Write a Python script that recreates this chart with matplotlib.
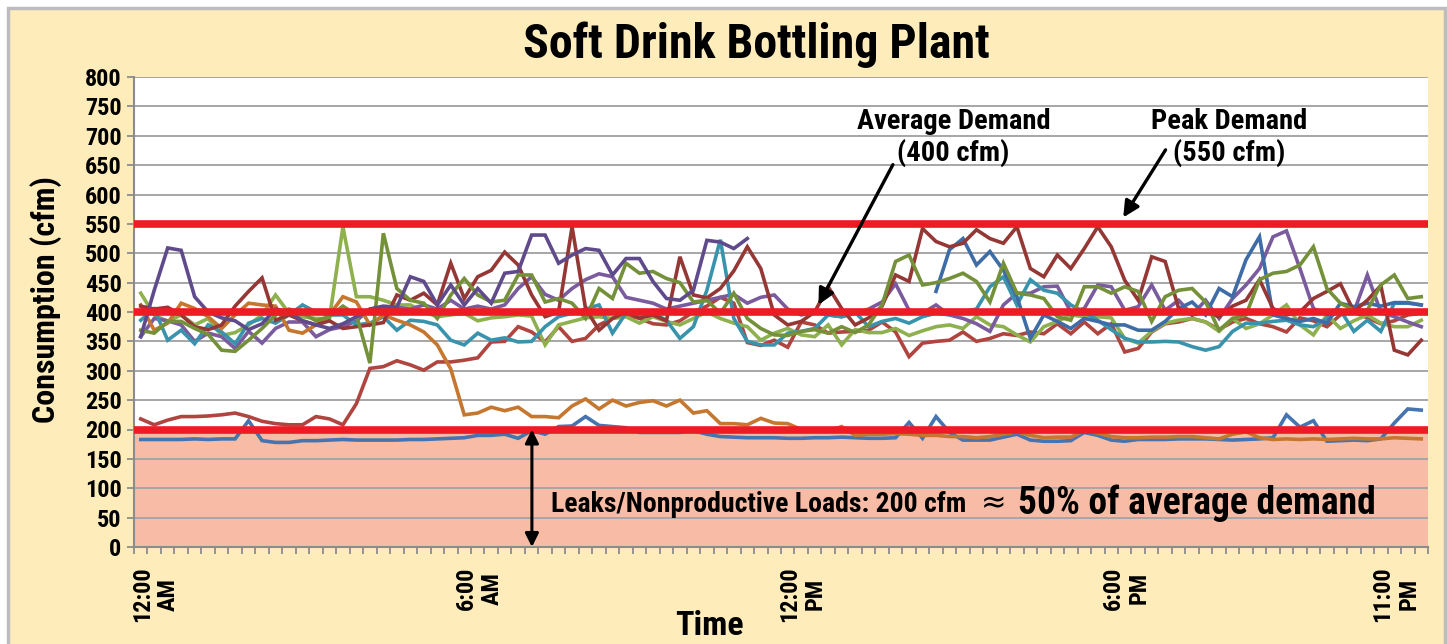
from matplotlib import pyplot as plt
from matplotlib.patches import Rectangle
from matplotlib.transforms import ScaledTranslation
import numpy as np

nan = np.nan

# Compressed-air consumption (cfm), one reading every 15 minutes (96 per day)
blue_low = [183, 183, 183, 183, 184, 183, 184, 184, 215, 181, 178, 178, 181, 181, 182, 183, 182, 182, 182, 182,
            183, 183, 184, 185, 186, 190, 190, 192, 185, 198, 192, 205, 206, 222, 207, 205, 203, 195, 195, 195,
            195, 198, 192, 188, 187, 186, 186, 186, 185, 185, 186, 186, 187, 186, 185, 185, 186, 212, 185, 222,
            195, 182, 182, 182, 187, 192, 182, 180, 180, 181, 195, 190, 182, 180, 183, 183, 183, 184, 184,
            184, 183, 182, 183, 184, 186, 225, 204, 215, 180, 181, 182, 181, 184, 211, 235, 233]
orange = [412, 369, 381, 415, 406, 392, 372, 395, 415, 412, 410, 369, 364, 378, 395, 426, 417, 378, 395, 386,
          378, 366, 344, 303, 225, 228, 238, 232, 238, 222, 222, 220, 240, 252, 235, 250, 240, 246, 249, 240,
          250, 228, 232, 210, 210, 208, 219, 211, 210, 200, 197, 197, 205, 190, 192, 192, 193, 192, 190, 190,
          188, 188, 186, 188, 192, 196, 190, 186, 187, 187, 198, 194, 188, 186, 186, 187, 187, 188, 188,
          186, 184, 192, 196, 186, 183, 184, 183, 184, 183, 184, 185, 184, 184, 186, 185, 184]
red = [218, 208, 216, 222, 222, 223, 225, 228, 222, 214, 210, 208, 208, 222, 218, 208, 244, 304, 307, 317,
       310, 301, 315, 315, 318, 322, 349, 350, 375, 366, 349, 375, 350, 355, 378, 389, 395, 389, 380, 378,
       385, 400, 410, 425, 415, 348, 343, 352, 340, 383, 378, 364, 366, 367, 369, 383, 366, 324, 347, 350,
       352, 366, 350, 355, 363, 360, 366, 363, 380, 363, 383, 363, 380, 332, 338, 366, 380, 383, 389,
       383, 370, 383, 389, 380, 375, 366, 390, 385, 375, 395, 400, 390, 380, 385, 395, 398]
dark_red = [410, 405, 408, 395, 375, 370, 378, 410, 435, 458, 386, 395, 385, 378, 385, 372, 375, 378, 382, 429,
            420, 432, 412, 483, 423, 460, 471, 502, 480, 429, 392, 400, 545, 406, 369, 389, 400, 390, 395, 385,
            494, 429, 424, 440, 470, 511, 474, 395, 378, 384, 400, 443, 406, 378, 390, 410, 463, 452, 542, 520,
            511, 517, 540, 525, 517, 545, 474, 460, 497, 474, 508, 545, 511, 454, 420, 494, 486, 406, 395,
            400, 392, 410, 420, 455, 406, 395, 400, 423, 435, 448, 401, 420, 445, 335, 327, 352]
dark_purple = [358, 437, 509, 505, 426, 400, 390, 385, 370, 380, 405, 400, 385, 378, 372, 380, 392, 405, 410, 408,
               460, 452, 412, 446, 412, 440, 415, 466, 469, 531, 531, 483, 497, 508, 505, 463, 491, 491, 452, 423,
               420, 437, 522, 519, 508, 525] + [nan] * 50
purple = [358, 389, 385, 378, 350, 364, 358, 338, 367, 347, 372, 383, 383, 358, 370, 375, 385, 405, 408, 408,
          405, 412, 405, 420, 405, 410, 405, 412, 440, 460, 430, 420, 440, 455, 465, 460, 425, 420, 415, 405,
          410, 415, 420, 425, 430, 415, 425, 429, 405, 395, 400, 395, 392, 398, 405, 417, 448, 403, 398, 412,
          395, 389, 380, 367, 412, 432, 432, 443, 444, 400, 406, 446, 443, 403, 409, 446, 403, 420, 395,
          420, 389, 423, 446, 474, 528, 538, 474, 406, 395, 400, 400, 463, 400, 392, 383, 375]
blue_pm = [nan] * 59 + [435, 506, 525, 480, 503, 471, 426, 355, 395, 384, 372, 389, 384, 378, 378, 369, 369, 384,
                        406, 417, 395, 440, 426, 489, 528, 395, 389, 384, 389, 381, 415, 409, 415, 410, 416, 416, 412]
teal = [386, 405, 352, 369, 346, 378, 366, 346, 381, 389, 381, 395, 412, 400, 395, 395, 378, 381, 392, 369,
        386, 384, 378, 352, 344, 364, 352, 356, 349, 350, 375, 392, 398, 405, 412, 364, 398, 403, 398, 386,
        355, 375, 437, 523, 389, 350, 344, 344, 364, 367, 372, 395, 392, 400, 375, 384, 389, 381, 392, 398,
        395, 400, 405, 443, 460, 412, 455, 437, 432, 412, 400, 386, 370, 355, 349, 349, 350, 349, 341,
        335, 341, 367, 381, 381, 384, 386, 378, 375, 389, 403, 367, 386, 367, 415, 415, 412]
green = [432, 395, 384, 395, 378, 389, 360, 365, 378, 395, 429, 398, 392, 389, 389, 545, 426, 426, 420, 412,
         412, 400, 392, 395, 398, 385, 390, 392, 395, 393, 344, 378, 384, 390, 392, 389, 392, 381, 392, 384,
         378, 389, 400, 389, 381, 375, 352, 364, 372, 361, 358, 378, 344, 370, 365, 365, 372, 360, 368, 375,
         378, 372, 392, 378, 375, 361, 349, 375, 384, 395, 392, 392, 390, 355, 347, 367, 381, 386, 389,
         383, 367, 389, 372, 380, 395, 412, 378, 361, 395, 372, 385, 395, 381, 375, 375, 386]
olive = [369, 364, 384, 384, 372, 362, 335, 333, 352, 372, 395, 405, 398, 385, 392, 410, 395, 313, 534, 440,
         420, 415, 389, 429, 457, 429, 417, 420, 463, 463, 417, 423, 415, 389, 440, 423, 483, 466, 469, 457,
         450, 417, 420, 398, 432, 389, 372, 361, 360, 367, 370, 364, 375, 365, 378, 412, 486, 497, 446, 450,
         457, 466, 452, 417, 483, 432, 429, 423, 392, 386, 443, 443, 432, 443, 435, 384, 426, 437, 440,
         417, 369, 389, 395, 455, 466, 469, 480, 511, 440, 415, 403, 403, 446, 463, 423, 426]

series = [blue_low, red, green, purple, teal, orange, blue_pm, dark_red, olive, dark_purple]
colors = ['#4674B0', '#B04540', '#8EB04F', '#7A5C9E', '#3A93AC', '#C5772F',
          '#3E6CA6', '#953735', '#74913A', '#5F4A8C']

leak_load = 200
avg_demand = 400
peak_demand = 550

tick_hours = [0, 6, 12, 18, 23]
tick_labels = ['12:00\nAM', '6:00\nAM', '12:00\nPM', '6:00\nPM', '11:00\nPM']

plt.rcParams['font.family'] = ['Liberation Sans Narrow', 'DejaVu Sans Condensed', 'Roboto Condensed',
                               'Liberation Sans', 'DejaVu Sans']
plt.rcParams['font.weight'] = 'bold'

fig = plt.figure(figsize=(14.47, 6.44), dpi=100)
fig.patch.set_facecolor('white')
fig.patches.append(Rectangle((8 / 1447, -0.02), 1437 / 1447, 1.02 - 8 / 644, transform=fig.transFigure,
                             facecolor='#FEEDBA', edgecolor='#BDBDBD', lw=2.5, zorder=-10))

ax = fig.add_axes([134 / 1447, 97 / 644, 1294 / 1447, 470 / 644])
ax.set_facecolor('white')

times = np.arange(96) * 0.25 + 0.125  # middle of each 15 min slot
for vals, c in zip(series, colors):
    ax.plot(times, vals, color=c, lw=2.6, zorder=2, solid_joinstyle='miter')

ax.axhspan(0, leak_load, color='#F8BCA6', zorder=0.1, lw=0)
for level in (leak_load, avg_demand, peak_demand):
    ax.axhline(level, color='#ED1C24', lw=5.5, zorder=3)

ax.set_xlim(0, 24)
ax.set_ylim(0, 800)
ax.set_yticks(np.arange(0, 801, 50))
ax.set_axisbelow(True)
ax.yaxis.grid(True, color='#A6A6A6', lw=1.4)
ax.tick_params(axis='y', labelsize=17.5, length=5, color='#8C8C8C', width=1.3, pad=4)

ax.set_xticks([h + 0.125 for h in tick_hours])
ax.set_xticklabels(tick_labels, rotation=90, ha='center', va='top', multialignment='center',
                   fontsize=17.5, linespacing=1.15)
ax.set_xticks(np.arange(0, 24.01, 0.25), minor=True)
ax.tick_params(axis='x', which='major', length=0, pad=14)
ax.tick_params(axis='x', which='minor', length=5, color='#8C8C8C', width=1.3)
for lab in ax.get_xticklabels():
    lab.set_transform(lab.get_transform() + ScaledTranslation(0.15, 0, fig.dpi_scale_trans))

for side in ('top', 'right'):
    ax.spines[side].set_visible(False)
for side in ('left', 'bottom'):
    ax.spines[side].set_color('#8C8C8C')
    ax.spines[side].set_linewidth(1.5)

fig.text(756 / 1447, 1 - 45 / 644, 'Soft Drink Bottling Plant', ha='center', va='center', fontsize=34.5)
fig.text(46 / 1447, 1 - 300 / 644, 'Consumption (cfm)', rotation=90, ha='center', va='center', fontsize=23)
fig.text(709 / 1447, 1 - 626 / 644, 'Time', ha='center', va='center', fontsize=24.5)

# annotations
ax.annotate('', xy=(12.67, 408), xytext=(14.1, 655),
            arrowprops=dict(arrowstyle='-|>', color='black', lw=2.4, mutation_scale=24), zorder=4)
ax.text(15.2, 697, 'Average Demand\n(400 cfm)', ha='center', va='center', fontsize=20.5, linespacing=1.2, zorder=4)
ax.annotate('', xy=(18.32, 557), xytext=(19.16, 680),
            arrowprops=dict(arrowstyle='-|>', color='black', lw=2.4, mutation_scale=24), zorder=4)
ax.text(20.31, 697, 'Peak Demand\n(550 cfm)', ha='center', va='center', fontsize=20.5, linespacing=1.2, zorder=4)

ax.annotate('', xy=(7.38, 0), xytext=(7.38, leak_load),
            arrowprops=dict(arrowstyle='<|-|>', color='black', lw=2.2, mutation_scale=20,
                            shrinkA=0, shrinkB=0), zorder=4)
ax.text(7.73, 72, 'Leaks/Nonproductive Loads: 200 cfm', ha='left', va='center', fontsize=20, zorder=4)
ax.text(15.95, 74, '\u2248', ha='center', va='center', fontsize=22, fontweight='normal',
        family=['DejaVu Sans'], zorder=4)
ax.text(16.4, 75, '50% of average demand', ha='left', va='center', fontsize=27, zorder=4)

fig.savefig('out.png', dpi=100)
